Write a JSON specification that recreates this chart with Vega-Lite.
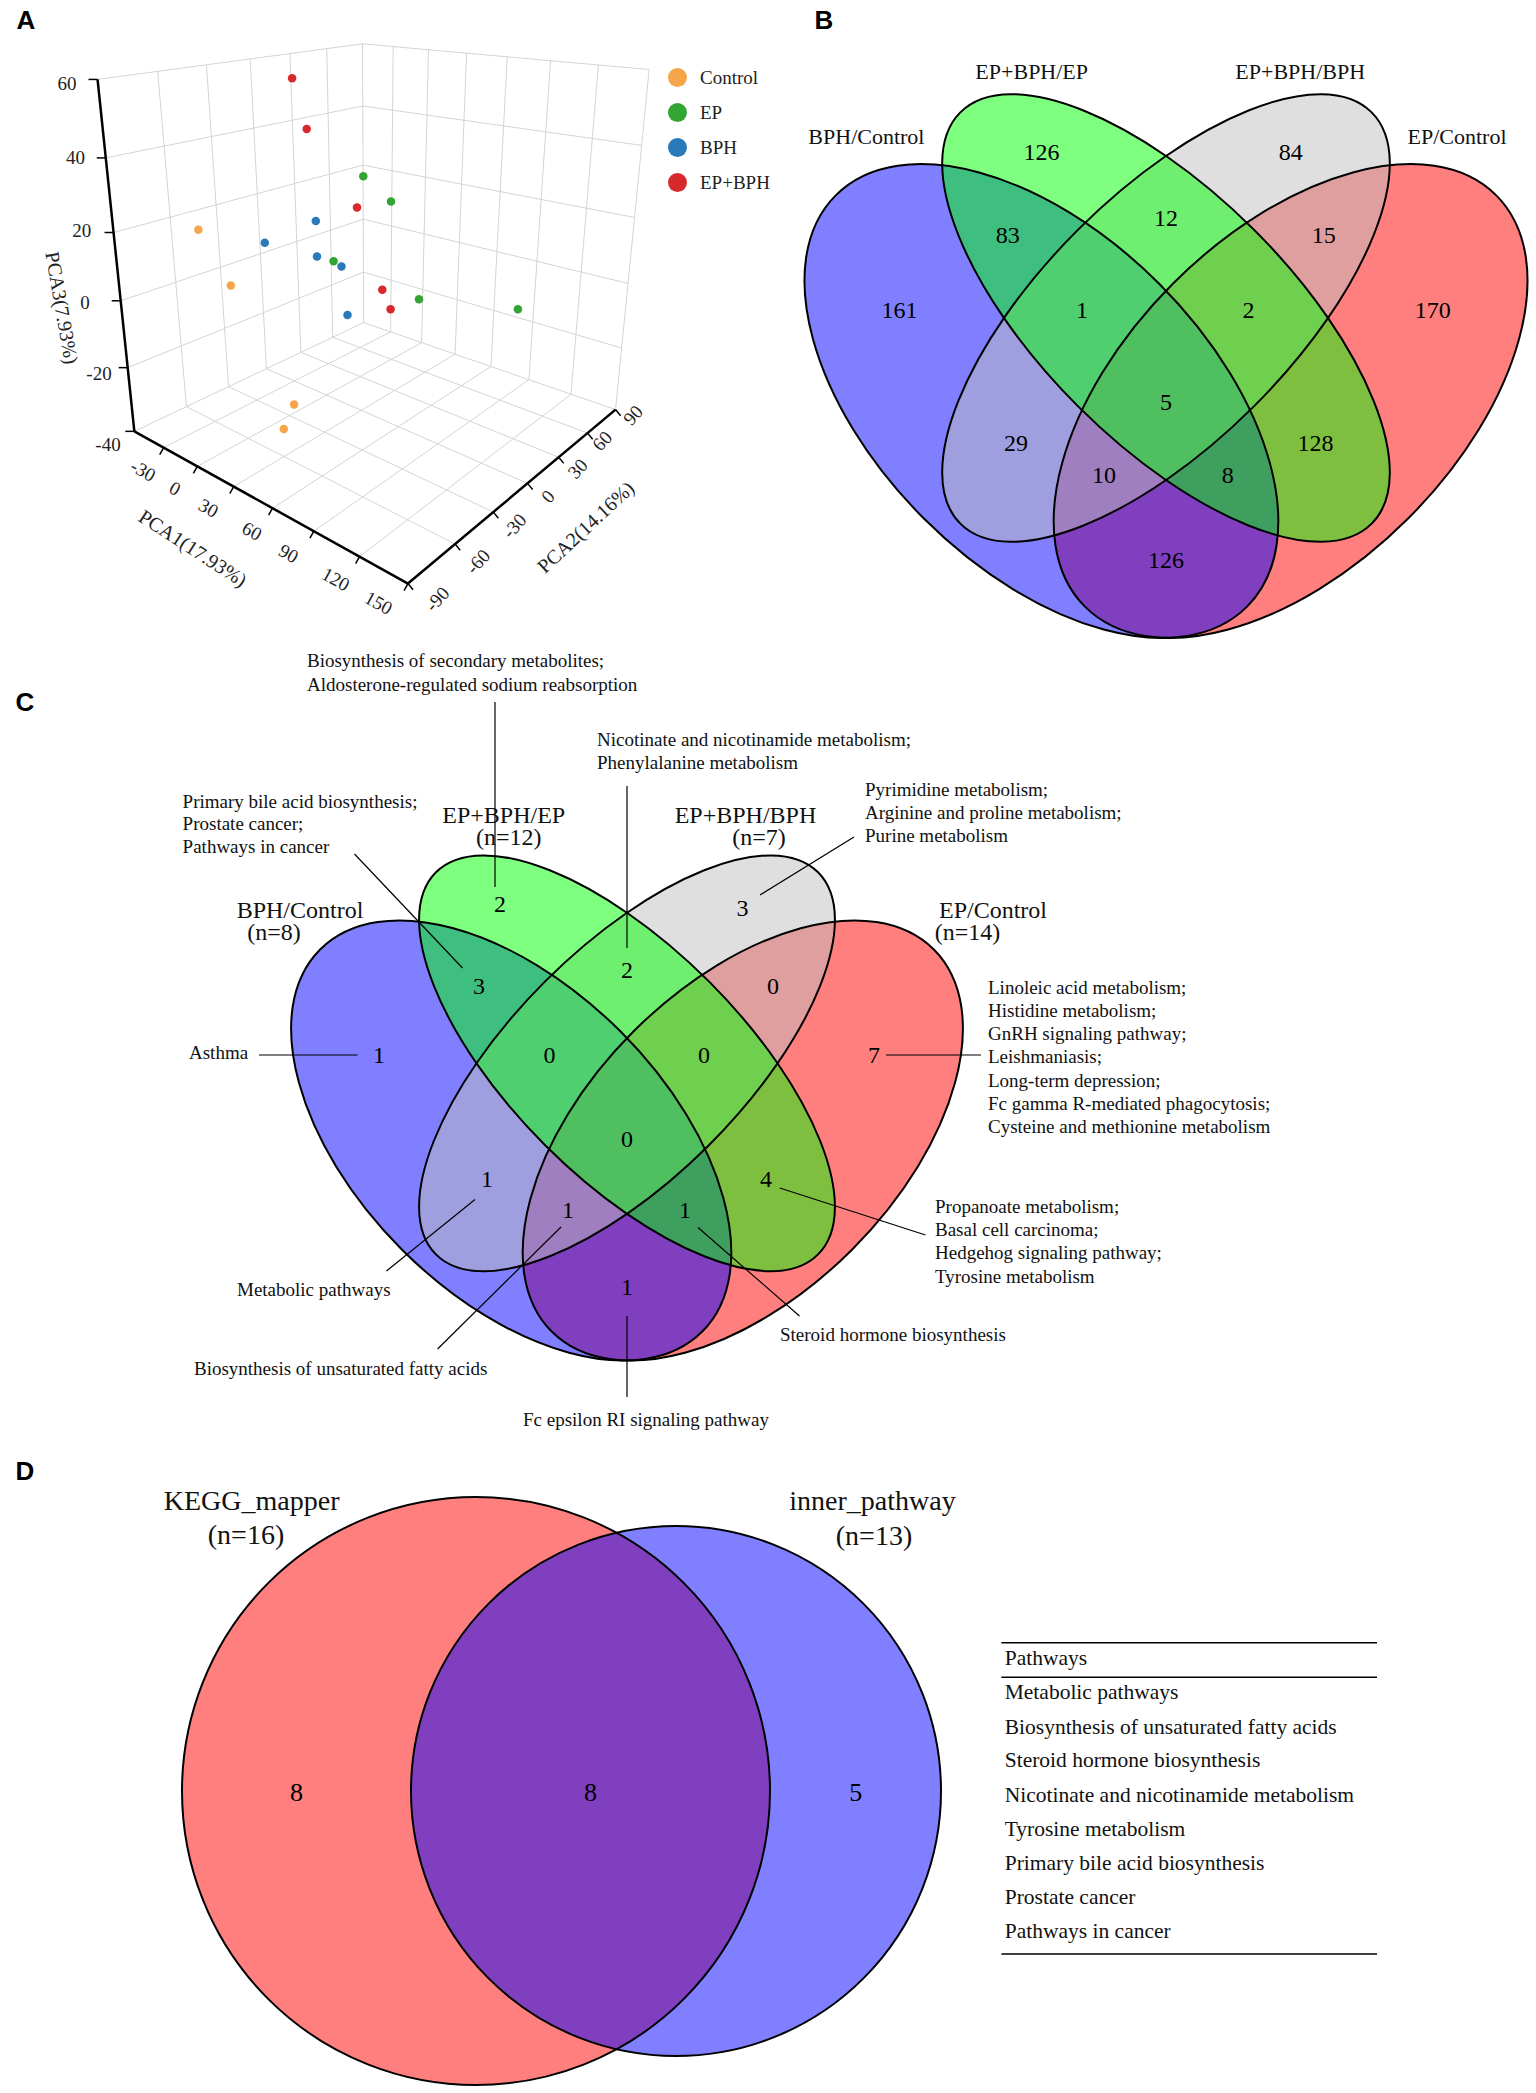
{
  "$schema": "https://vega.github.io/schema/vega-lite/v6.json",
  "width": 1536,
  "height": 2093,
  "autosize": {"type": "fit", "contains": "padding"},
  "padding": 0,
  "background": "white",
  "config": {"view": {"stroke": null}},
  "encoding": {
    "x": {"field": "x", "type": "quantitative", "scale": {"domain": [0, 1536], "nice": false, "zero": false}, "axis": null},
    "y": {"field": "y", "type": "quantitative", "scale": {"domain": [0, 2093], "nice": false, "zero": false, "reverse": true}, "axis": null}
  },
  "layer": [
    {
      "data": {"values": [
        {"x": 186.41, "y": 406.66, "x2": 157.71, "y2": 71.36},
        {"x": 228.6, "y": 386.66, "x2": 206.46, "y2": 64.8},
        {"x": 266.44, "y": 368.71, "x2": 250.15, "y2": 58.94},
        {"x": 300.84, "y": 352.38, "x2": 289.89, "y2": 53.61},
        {"x": 332.71, "y": 337.27, "x2": 326.74, "y2": 48.62},
        {"x": 127.69, "y": 367.64, "x2": 363.48, "y2": 272.15},
        {"x": 120.7, "y": 300.78, "x2": 363.24, "y2": 219.16},
        {"x": 113.58, "y": 232.49, "x2": 363.01, "y2": 165.11},
        {"x": 105.75, "y": 157.91, "x2": 362.77, "y2": 106.0},
        {"x": 97.56, "y": 79.43, "x2": 362.49, "y2": 43.84},
        {"x": 362.49, "y": 43.84, "x2": 363.67, "y2": 322.6},
        {"x": 134.34, "y": 431.34, "x2": 363.67, "y2": 322.6},
        {"x": 390.64, "y": 331.9, "x2": 393.17, "y2": 46.61},
        {"x": 421.61, "y": 342.61, "x2": 428.44, "y2": 49.77},
        {"x": 455.09, "y": 354.2, "x2": 466.57, "y2": 53.17},
        {"x": 490.88, "y": 366.54, "x2": 507.25, "y2": 56.81},
        {"x": 528.91, "y": 379.66, "x2": 550.55, "y2": 60.68},
        {"x": 570.99, "y": 394.21, "x2": 598.43, "y2": 64.99},
        {"x": 615.55, "y": 409.59, "x2": 649.16, "y2": 69.54},
        {"x": 363.48, "y": 272.15, "x2": 621.64, "y2": 348.03},
        {"x": 363.24, "y": 219.16, "x2": 628.01, "y2": 283.42},
        {"x": 363.01, "y": 165.11, "x2": 634.53, "y2": 217.47},
        {"x": 362.77, "y": 106.0, "x2": 641.65, "y2": 145.38},
        {"x": 362.49, "y": 43.84, "x2": 649.16, "y2": 69.54},
        {"x": 363.67, "y": 322.6, "x2": 615.55, "y2": 409.59},
        {"x": 163.6, "y": 447.63, "x2": 390.64, "y2": 331.9},
        {"x": 197.29, "y": 466.37, "x2": 421.61, "y2": 342.61},
        {"x": 233.67, "y": 486.62, "x2": 455.09, "y2": 354.2},
        {"x": 272.53, "y": 508.21, "x2": 490.88, "y2": 366.54},
        {"x": 313.85, "y": 531.22, "x2": 528.91, "y2": 379.66},
        {"x": 359.52, "y": 556.65, "x2": 570.99, "y2": 394.21},
        {"x": 186.41, "y": 406.66, "x2": 455.09, "y2": 544.07},
        {"x": 228.6, "y": 386.66, "x2": 493.29, "y2": 512.08},
        {"x": 266.44, "y": 368.71, "x2": 527.53, "y2": 483.38},
        {"x": 300.84, "y": 352.38, "x2": 558.69, "y2": 457.28},
        {"x": 332.71, "y": 337.27, "x2": 587.52, "y2": 433.09}
      ]},
      "mark": {"type": "rule", "stroke": "#d4d4d4", "strokeWidth": 1},
      "encoding": {"x2": {"field": "x2"}, "y2": {"field": "y2"}}
    },
    {
      "data": {"values": [
        {"x": 97.56, "y": 79.43, "x2": 134.34, "y2": 431.34},
        {"x": 134.34, "y": 431.34, "x2": 407.96, "y2": 583.57},
        {"x": 407.96, "y": 583.57, "x2": 615.55, "y2": 409.59}
      ]},
      "mark": {"type": "rule", "stroke": "#000000", "strokeWidth": 2.5},
      "encoding": {"x2": {"field": "x2"}, "y2": {"field": "y2"}}
    },
    {
      "data": {"values": [
        {"x": 134.34, "y": 431.34, "x2": 125.34, "y2": 431.34},
        {"x": 127.68, "y": 367.65, "x2": 118.68, "y2": 367.65},
        {"x": 120.69, "y": 300.78, "x2": 111.69, "y2": 300.78},
        {"x": 113.56, "y": 232.51, "x2": 104.56, "y2": 232.51},
        {"x": 105.76, "y": 157.9, "x2": 96.76, "y2": 157.9},
        {"x": 97.56, "y": 79.43, "x2": 88.56, "y2": 79.43},
        {"x": 163.62, "y": 447.63, "x2": 159.72, "y2": 454.63},
        {"x": 197.27, "y": 466.35, "x2": 193.37, "y2": 473.35},
        {"x": 233.66, "y": 486.6, "x2": 229.76, "y2": 493.6},
        {"x": 272.52, "y": 508.22, "x2": 268.62, "y2": 515.22},
        {"x": 313.84, "y": 531.2, "x2": 309.94, "y2": 538.2},
        {"x": 359.53, "y": 556.63, "x2": 355.63, "y2": 563.63},
        {"x": 407.96, "y": 583.57, "x2": 404.06, "y2": 590.57},
        {"x": 407.96, "y": 583.57, "x2": 413.06, "y2": 589.67},
        {"x": 455.08, "y": 544.08, "x2": 460.18, "y2": 550.18},
        {"x": 493.28, "y": 512.07, "x2": 498.38, "y2": 518.17},
        {"x": 527.53, "y": 483.36, "x2": 532.63, "y2": 489.46},
        {"x": 558.67, "y": 457.26, "x2": 563.77, "y2": 463.36},
        {"x": 587.52, "y": 433.08, "x2": 592.62, "y2": 439.18},
        {"x": 615.55, "y": 409.59, "x2": 620.65, "y2": 415.69}
      ]},
      "mark": {"type": "rule", "stroke": "#000000", "strokeWidth": 1.5},
      "encoding": {"x2": {"field": "x2"}, "y2": {"field": "y2"}}
    },
    {
      "data": {"values": [
        {"t": "60", "x": 67, "y": 84},
        {"t": "40", "x": 75.5, "y": 158},
        {"t": "20", "x": 81.7, "y": 231},
        {"t": "0", "x": 85, "y": 303},
        {"t": "-20", "x": 99, "y": 374},
        {"t": "-40", "x": 108, "y": 445}
      ]},
      "mark": {"type": "text", "font": "Liberation Serif", "fontSize": 19, "align": "center", "baseline": "middle", "color": "#222222"},
      "encoding": {"text": {"field": "t"}}
    },
    {
      "data": {"values": [
        {"t": "-30", "x": 143, "y": 470.9},
        {"t": "0", "x": 174.7, "y": 488.7},
        {"t": "30", "x": 208.3, "y": 508.4},
        {"t": "60", "x": 251.8, "y": 531.4},
        {"t": "90", "x": 288.5, "y": 553.9},
        {"t": "120", "x": 335.6, "y": 579.6},
        {"t": "150", "x": 378.3, "y": 603.3}
      ]},
      "mark": {"type": "text", "font": "Liberation Serif", "fontSize": 19, "align": "center", "baseline": "middle", "angle": 29, "color": "#222222"},
      "encoding": {"text": {"field": "t"}}
    },
    {
      "data": {"values": [
        {"t": "-90", "x": 437.6, "y": 599.4},
        {"t": "-60", "x": 478.3, "y": 561.8},
        {"t": "-30", "x": 514.7, "y": 526.2},
        {"t": "0", "x": 548.3, "y": 496.6},
        {"t": "30", "x": 578, "y": 468.9},
        {"t": "60", "x": 602.5, "y": 441.2},
        {"t": "90", "x": 633.3, "y": 415.5}
      ]},
      "mark": {"type": "text", "font": "Liberation Serif", "fontSize": 19, "align": "center", "baseline": "middle", "angle": 312, "color": "#222222"},
      "encoding": {"text": {"field": "t"}}
    },
    {
      "data": {"values": [{"t": "PCA1(17.93%)", "x": 192.5, "y": 549}]},
      "mark": {"type": "text", "font": "Liberation Serif", "fontSize": 20, "align": "center", "baseline": "middle", "angle": 33, "color": "#222222"},
      "encoding": {"text": {"field": "t"}}
    },
    {
      "data": {"values": [{"t": "PCA2(14.16%)", "x": 586.3, "y": 527.7}]},
      "mark": {"type": "text", "font": "Liberation Serif", "fontSize": 20, "align": "center", "baseline": "middle", "angle": 317, "color": "#222222"},
      "encoding": {"text": {"field": "t"}}
    },
    {
      "data": {"values": [{"t": "PCA3(7.93%)", "x": 61, "y": 308}]},
      "mark": {"type": "text", "font": "Liberation Serif", "fontSize": 20, "align": "center", "baseline": "middle", "angle": 80, "color": "#222222"},
      "encoding": {"text": {"field": "t"}}
    },
    {
      "data": {"values": [
        {"group": "EP+BPH", "x": 292.1, "y": 78.2},
        {"group": "EP+BPH", "x": 306.7, "y": 128.9},
        {"group": "EP+BPH", "x": 357.0, "y": 207.5},
        {"group": "EP+BPH", "x": 382.3, "y": 289.8},
        {"group": "EP+BPH", "x": 390.6, "y": 309.2},
        {"group": "EP", "x": 363.3, "y": 176.3},
        {"group": "EP", "x": 391.0, "y": 201.6},
        {"group": "EP", "x": 333.6, "y": 261.3},
        {"group": "EP", "x": 419.0, "y": 299.3},
        {"group": "EP", "x": 517.9, "y": 309.2},
        {"group": "BPH", "x": 315.8, "y": 221.0},
        {"group": "BPH", "x": 264.8, "y": 242.7},
        {"group": "BPH", "x": 317.0, "y": 256.6},
        {"group": "BPH", "x": 341.5, "y": 266.5},
        {"group": "BPH", "x": 347.5, "y": 315.1},
        {"group": "Control", "x": 198.4, "y": 229.7},
        {"group": "Control", "x": 230.8, "y": 285.4},
        {"group": "Control", "x": 294.1, "y": 404.4},
        {"group": "Control", "x": 283.8, "y": 429.0}
      ]},
      "mark": {"type": "point", "filled": true, "shape": "circle", "size": 72, "opacity": 1, "strokeWidth": 0},
      "encoding": {
        "color": {
          "field": "group", "type": "nominal",
          "scale": {"domain": ["Control", "EP", "BPH", "EP+BPH"], "range": ["#F5A54A", "#33A532", "#2A7AB9", "#D7282B"]},
          "legend": {"title": null, "orient": "none", "legendX": 668, "legendY": 68, "symbolType": "circle", "symbolSize": 361, "symbolOpacity": 1, "symbolStrokeWidth": 0, "labelFont": "Liberation Serif", "labelFontSize": 19, "labelColor": "#222222", "labelOffset": 13, "rowPadding": 15, "padding": 0}
        }
      }
    },
    {
      "data": {"values": [
        {"set": "EP/Control", "x": 1290.6, "y": 401},
        {"set": "BPH/Control", "x": 1041.4, "y": 401},
        {"set": "EP+BPH/BPH", "x": 1166, "y": 318},
        {"set": "EP+BPH/EP", "x": 1166, "y": 318}
      ]},
      "mark": {"type": "point", "filled": true, "opacity": 1, "fillOpacity": 0.5, "strokeWidth": 0, "size": 27622},
      "encoding": {
        "shape": {"field": "set", "type": "nominal", "legend": null, "scale": {"domain": ["EP/Control", "BPH/Control", "EP+BPH/BPH", "EP+BPH/EP"], "range": [
          "M -2.4749 2.4749 C -1.6938 3.256 0.0474 2.781 1.4142 1.4142 C 2.781 0.0474 3.256 -1.6938 2.4749 -2.4749 C 1.6938 -3.256 -0.0474 -2.781 -1.4142 -1.4142 C -2.781 -0.0474 -3.256 1.6938 -2.4749 2.4749 Z",
          "M 2.4749 2.4749 C 1.6938 3.256 -0.0474 2.781 -1.4142 1.4142 C -2.781 0.0474 -3.256 -1.6938 -2.4749 -2.4749 C -1.6938 -3.256 0.0474 -2.781 1.4142 -1.4142 C 2.781 -0.0474 3.256 1.6938 2.4749 2.4749 Z",
          "M -2.4749 2.4749 C -1.8891 3.0607 -0.3061 2.4275 1.0607 1.0607 C 2.4275 -0.3061 3.0607 -1.8891 2.4749 -2.4749 C 1.8891 -3.0607 0.3061 -2.4275 -1.0607 -1.0607 C -2.4275 0.3061 -3.0607 1.8891 -2.4749 2.4749 Z",
          "M 2.4749 2.4749 C 1.8891 3.0607 0.3061 2.4275 -1.0607 1.0607 C -2.4275 -0.3061 -3.0607 -1.8891 -2.4749 -2.4749 C -1.8891 -3.0607 -0.3061 -2.4275 1.0607 -1.0607 C 2.4275 0.3061 3.0607 1.8891 2.4749 2.4749 Z"
        ]}},
        "fill": {"field": "set", "type": "nominal", "legend": null, "scale": {"domain": ["EP/Control", "BPH/Control", "EP+BPH/BPH", "EP+BPH/EP"], "range": ["#FF0000", "#0000FF", "#BFBFBF", "#00FF00"]}}
      }
    },
    {
      "data": {"values": [
        {"set": "EP/Control", "x": 1290.6, "y": 401},
        {"set": "BPH/Control", "x": 1041.4, "y": 401},
        {"set": "EP+BPH/BPH", "x": 1166, "y": 318},
        {"set": "EP+BPH/EP", "x": 1166, "y": 318}
      ]},
      "mark": {"type": "point", "filled": false, "opacity": 1, "stroke": "#000000", "strokeWidth": 2, "size": 27622},
      "encoding": {
        "shape": {"field": "set", "type": "nominal", "legend": null, "scale": {"domain": ["EP/Control", "BPH/Control", "EP+BPH/BPH", "EP+BPH/EP"], "range": [
          "M -2.4749 2.4749 C -1.6938 3.256 0.0474 2.781 1.4142 1.4142 C 2.781 0.0474 3.256 -1.6938 2.4749 -2.4749 C 1.6938 -3.256 -0.0474 -2.781 -1.4142 -1.4142 C -2.781 -0.0474 -3.256 1.6938 -2.4749 2.4749 Z",
          "M 2.4749 2.4749 C 1.6938 3.256 -0.0474 2.781 -1.4142 1.4142 C -2.781 0.0474 -3.256 -1.6938 -2.4749 -2.4749 C -1.6938 -3.256 0.0474 -2.781 1.4142 -1.4142 C 2.781 -0.0474 3.256 1.6938 2.4749 2.4749 Z",
          "M -2.4749 2.4749 C -1.8891 3.0607 -0.3061 2.4275 1.0607 1.0607 C 2.4275 -0.3061 3.0607 -1.8891 2.4749 -2.4749 C 1.8891 -3.0607 0.3061 -2.4275 -1.0607 -1.0607 C -2.4275 0.3061 -3.0607 1.8891 -2.4749 2.4749 Z",
          "M 2.4749 2.4749 C 1.8891 3.0607 0.3061 2.4275 -1.0607 1.0607 C -2.4275 -0.3061 -3.0607 -1.8891 -2.4749 -2.4749 C -1.8891 -3.0607 -0.3061 -2.4275 1.0607 -1.0607 C 2.4275 0.3061 3.0607 1.8891 2.4749 2.4749 Z"
        ]}}
      }
    },
    {
      "data": {"values": [
        {"t": "161", "x": 899.6, "y": 311},
        {"t": "126", "x": 1041.6, "y": 153},
        {"t": "84", "x": 1290.8, "y": 153},
        {"t": "170", "x": 1432.8, "y": 311},
        {"t": "12", "x": 1166, "y": 219},
        {"t": "83", "x": 1007.7, "y": 236},
        {"t": "15", "x": 1323.7, "y": 236},
        {"t": "1", "x": 1082, "y": 311},
        {"t": "2", "x": 1248.6, "y": 311},
        {"t": "5", "x": 1166, "y": 403},
        {"t": "29", "x": 1016, "y": 444},
        {"t": "128", "x": 1315.5, "y": 444},
        {"t": "10", "x": 1104, "y": 475.6},
        {"t": "8", "x": 1227.8, "y": 475.6},
        {"t": "126", "x": 1166, "y": 560.5}
      ]},
      "mark": {"type": "text", "font": "Liberation Serif", "fontSize": 24, "align": "center", "baseline": "middle", "color": "#000000"},
      "encoding": {"text": {"field": "t"}}
    },
    {
      "data": {"values": [
        {"t": "EP+BPH/EP", "x": 1031.7, "y": 72},
        {"t": "EP+BPH/BPH", "x": 1300.2, "y": 72},
        {"t": "BPH/Control", "x": 866.4, "y": 137},
        {"t": "EP/Control", "x": 1457, "y": 137}
      ]},
      "mark": {"type": "text", "font": "Liberation Serif", "fontSize": 22, "align": "center", "baseline": "middle", "color": "#111111"},
      "encoding": {"text": {"field": "t"}}
    },
    {
      "data": {"values": [
        {"set": "EP/Control", "x": 742.8, "y": 1140.5},
        {"set": "BPH/Control", "x": 511.2, "y": 1140.5},
        {"set": "EP+BPH/BPH", "x": 627, "y": 1063.3},
        {"set": "EP+BPH/EP", "x": 627, "y": 1063.3}
      ]},
      "mark": {"type": "point", "filled": true, "opacity": 1, "fillOpacity": 0.5, "strokeWidth": 0, "size": 23839},
      "encoding": {
        "shape": {"field": "set", "type": "nominal", "legend": null, "scale": {"domain": ["EP/Control", "BPH/Control", "EP+BPH/BPH", "EP+BPH/EP"], "range": [
          "M -2.4749 2.4749 C -1.6938 3.256 0.0474 2.781 1.4142 1.4142 C 2.781 0.0474 3.256 -1.6938 2.4749 -2.4749 C 1.6938 -3.256 -0.0474 -2.781 -1.4142 -1.4142 C -2.781 -0.0474 -3.256 1.6938 -2.4749 2.4749 Z",
          "M 2.4749 2.4749 C 1.6938 3.256 -0.0474 2.781 -1.4142 1.4142 C -2.781 0.0474 -3.256 -1.6938 -2.4749 -2.4749 C -1.6938 -3.256 0.0474 -2.781 1.4142 -1.4142 C 2.781 -0.0474 3.256 1.6938 2.4749 2.4749 Z",
          "M -2.4749 2.4749 C -1.8891 3.0607 -0.3061 2.4275 1.0607 1.0607 C 2.4275 -0.3061 3.0607 -1.8891 2.4749 -2.4749 C 1.8891 -3.0607 0.3061 -2.4275 -1.0607 -1.0607 C -2.4275 0.3061 -3.0607 1.8891 -2.4749 2.4749 Z",
          "M 2.4749 2.4749 C 1.8891 3.0607 0.3061 2.4275 -1.0607 1.0607 C -2.4275 -0.3061 -3.0607 -1.8891 -2.4749 -2.4749 C -1.8891 -3.0607 -0.3061 -2.4275 1.0607 -1.0607 C 2.4275 0.3061 3.0607 1.8891 2.4749 2.4749 Z"
        ]}},
        "fill": {"field": "set", "type": "nominal", "legend": null, "scale": {"domain": ["EP/Control", "BPH/Control", "EP+BPH/BPH", "EP+BPH/EP"], "range": ["#FF0000", "#0000FF", "#BFBFBF", "#00FF00"]}}
      }
    },
    {
      "data": {"values": [
        {"set": "EP/Control", "x": 742.8, "y": 1140.5},
        {"set": "BPH/Control", "x": 511.2, "y": 1140.5},
        {"set": "EP+BPH/BPH", "x": 627, "y": 1063.3},
        {"set": "EP+BPH/EP", "x": 627, "y": 1063.3}
      ]},
      "mark": {"type": "point", "filled": false, "opacity": 1, "stroke": "#000000", "strokeWidth": 2, "size": 23839},
      "encoding": {
        "shape": {"field": "set", "type": "nominal", "legend": null, "scale": {"domain": ["EP/Control", "BPH/Control", "EP+BPH/BPH", "EP+BPH/EP"], "range": [
          "M -2.4749 2.4749 C -1.6938 3.256 0.0474 2.781 1.4142 1.4142 C 2.781 0.0474 3.256 -1.6938 2.4749 -2.4749 C 1.6938 -3.256 -0.0474 -2.781 -1.4142 -1.4142 C -2.781 -0.0474 -3.256 1.6938 -2.4749 2.4749 Z",
          "M 2.4749 2.4749 C 1.6938 3.256 -0.0474 2.781 -1.4142 1.4142 C -2.781 0.0474 -3.256 -1.6938 -2.4749 -2.4749 C -1.6938 -3.256 0.0474 -2.781 1.4142 -1.4142 C 2.781 -0.0474 3.256 1.6938 2.4749 2.4749 Z",
          "M -2.4749 2.4749 C -1.8891 3.0607 -0.3061 2.4275 1.0607 1.0607 C 2.4275 -0.3061 3.0607 -1.8891 2.4749 -2.4749 C 1.8891 -3.0607 0.3061 -2.4275 -1.0607 -1.0607 C -2.4275 0.3061 -3.0607 1.8891 -2.4749 2.4749 Z",
          "M 2.4749 2.4749 C 1.8891 3.0607 0.3061 2.4275 -1.0607 1.0607 C -2.4275 -0.3061 -3.0607 -1.8891 -2.4749 -2.4749 C -1.8891 -3.0607 -0.3061 -2.4275 1.0607 -1.0607 C 2.4275 0.3061 3.0607 1.8891 2.4749 2.4749 Z"
        ]}}
      }
    },
    {
      "data": {"values": [
        {"x": 495, "y": 702, "x2": 495, "y2": 887},
        {"x": 627, "y": 786, "x2": 627, "y2": 948},
        {"x": 854, "y": 837, "x2": 760, "y2": 895},
        {"x": 354.5, "y": 854, "x2": 462.5, "y2": 968},
        {"x": 259, "y": 1055, "x2": 357.6, "y2": 1055},
        {"x": 886, "y": 1055, "x2": 981, "y2": 1055},
        {"x": 779.8, "y": 1188, "x2": 925.5, "y2": 1235},
        {"x": 698, "y": 1227.5, "x2": 799.5, "y2": 1316},
        {"x": 475, "y": 1199.5, "x2": 386.5, "y2": 1271},
        {"x": 561, "y": 1227, "x2": 437.6, "y2": 1349},
        {"x": 627, "y": 1316, "x2": 627, "y2": 1397}
      ]},
      "mark": {"type": "rule", "stroke": "#000000", "strokeWidth": 1.2},
      "encoding": {"x2": {"field": "x2"}, "y2": {"field": "y2"}}
    },
    {
      "data": {"values": [
        {"t": "2", "x": 500, "y": 904.6},
        {"t": "3", "x": 742.5, "y": 908.6},
        {"t": "2", "x": 627, "y": 970.7},
        {"t": "3", "x": 479, "y": 986.7},
        {"t": "0", "x": 773, "y": 986.7},
        {"t": "1", "x": 379, "y": 1056},
        {"t": "0", "x": 549.5, "y": 1056},
        {"t": "0", "x": 704, "y": 1056},
        {"t": "7", "x": 874, "y": 1056},
        {"t": "0", "x": 627, "y": 1140},
        {"t": "1", "x": 487, "y": 1179.7},
        {"t": "4", "x": 766, "y": 1179.7},
        {"t": "1", "x": 568, "y": 1210.5},
        {"t": "1", "x": 685, "y": 1210.5},
        {"t": "1", "x": 627, "y": 1288}
      ]},
      "mark": {"type": "text", "font": "Liberation Serif", "fontSize": 24, "align": "center", "baseline": "middle", "color": "#000000"},
      "encoding": {"text": {"field": "t"}}
    },
    {
      "data": {"values": [
        {"t": "BPH/Control", "x": 300, "y": 911},
        {"t": "(n=8)", "x": 274, "y": 933.4},
        {"t": "EP+BPH/EP", "x": 503.7, "y": 815.5},
        {"t": "(n=12)", "x": 508.7, "y": 838},
        {"t": "EP+BPH/BPH", "x": 745.5, "y": 815.5},
        {"t": "(n=7)", "x": 759, "y": 838},
        {"t": "EP/Control", "x": 993, "y": 911},
        {"t": "(n=14)", "x": 967.6, "y": 933.4}
      ]},
      "mark": {"type": "text", "font": "Liberation Serif", "fontSize": 24, "align": "center", "baseline": "middle", "color": "#111111"},
      "encoding": {"text": {"field": "t"}}
    },
    {
      "data": {"values": [
        {"t": "Biosynthesis of secondary metabolites;", "x": 307, "y": 661},
        {"t": "Aldosterone-regulated sodium reabsorption", "x": 307, "y": 685},
        {"t": "Nicotinate and nicotinamide metabolism;", "x": 597, "y": 740},
        {"t": "Phenylalanine metabolism", "x": 597, "y": 763},
        {"t": "Pyrimidine metabolism;", "x": 865, "y": 790},
        {"t": "Arginine and proline metabolism;", "x": 865, "y": 813},
        {"t": "Purine metabolism", "x": 865, "y": 836},
        {"t": "Primary bile acid biosynthesis;", "x": 182.6, "y": 801.7},
        {"t": "Prostate cancer;", "x": 182.6, "y": 824},
        {"t": "Pathways in cancer", "x": 182.6, "y": 847},
        {"t": "Asthma", "x": 189, "y": 1053},
        {"t": "Linoleic acid metabolism;", "x": 988, "y": 988},
        {"t": "Histidine metabolism;", "x": 988, "y": 1011},
        {"t": "GnRH signaling pathway;", "x": 988, "y": 1034},
        {"t": "Leishmaniasis;", "x": 988, "y": 1057},
        {"t": "Long-term depression;", "x": 988, "y": 1081},
        {"t": "Fc gamma R-mediated phagocytosis;", "x": 988, "y": 1104},
        {"t": "Cysteine and methionine metabolism", "x": 988, "y": 1127},
        {"t": "Propanoate metabolism;", "x": 935, "y": 1207},
        {"t": "Basal cell carcinoma;", "x": 935, "y": 1230},
        {"t": "Hedgehog signaling pathway;", "x": 935, "y": 1253},
        {"t": "Tyrosine metabolism", "x": 935, "y": 1277},
        {"t": "Steroid hormone biosynthesis", "x": 780, "y": 1335},
        {"t": "Metabolic pathways", "x": 237, "y": 1290},
        {"t": "Biosynthesis of unsaturated fatty acids", "x": 194, "y": 1369},
        {"t": "Fc epsilon RI signaling pathway", "x": 523, "y": 1420}
      ]},
      "mark": {"type": "text", "font": "Liberation Serif", "fontSize": 19, "align": "left", "baseline": "middle", "color": "#111111"},
      "encoding": {"text": {"field": "t"}}
    },
    {
      "data": {"values": [{"set": "KEGG_mapper", "x": 476, "y": 1791}]},
      "mark": {"type": "point", "shape": "circle", "filled": true, "opacity": 1, "fill": "#FF0000", "fillOpacity": 0.5, "strokeWidth": 0, "size": 345744},
      "encoding": {}
    },
    {
      "data": {"values": [{"set": "inner_pathway", "x": 676, "y": 1791}]},
      "mark": {"type": "point", "shape": "circle", "filled": true, "opacity": 1, "fill": "#0000FF", "fillOpacity": 0.5, "strokeWidth": 0, "size": 280900},
      "encoding": {}
    },
    {
      "data": {"values": [{"set": "KEGG_mapper", "x": 476, "y": 1791}]},
      "mark": {"type": "point", "shape": "circle", "filled": false, "opacity": 1, "stroke": "#000000", "strokeWidth": 2, "size": 345744},
      "encoding": {}
    },
    {
      "data": {"values": [{"set": "inner_pathway", "x": 676, "y": 1791}]},
      "mark": {"type": "point", "shape": "circle", "filled": false, "opacity": 1, "stroke": "#000000", "strokeWidth": 2, "size": 280900},
      "encoding": {}
    },
    {
      "data": {"values": [
        {"t": "8", "x": 296.5, "y": 1793},
        {"t": "8", "x": 590.4, "y": 1793},
        {"t": "5", "x": 855.7, "y": 1793}
      ]},
      "mark": {"type": "text", "font": "Liberation Serif", "fontSize": 26, "align": "center", "baseline": "middle", "color": "#000000"},
      "encoding": {"text": {"field": "t"}}
    },
    {
      "data": {"values": [
        {"t": "KEGG_mapper", "x": 251.6, "y": 1502},
        {"t": "(n=16)", "x": 246, "y": 1535.7},
        {"t": "inner_pathway", "x": 872.5, "y": 1502},
        {"t": "(n=13)", "x": 874, "y": 1536.5}
      ]},
      "mark": {"type": "text", "font": "Liberation Serif", "fontSize": 28, "align": "center", "baseline": "middle", "color": "#111111"},
      "encoding": {"text": {"field": "t"}}
    },
    {
      "data": {"values": [
        {"x": 1001.4, "y": 1642.7, "x2": 1377, "y2": 1642.7},
        {"x": 1001.4, "y": 1677.3, "x2": 1377, "y2": 1677.3},
        {"x": 1001.4, "y": 1954, "x2": 1377, "y2": 1954}
      ]},
      "mark": {"type": "rule", "stroke": "#000000", "strokeWidth": 1.6},
      "encoding": {"x2": {"field": "x2"}, "y2": {"field": "y2"}}
    },
    {
      "data": {"values": [
        {"t": "Pathways", "x": 1004.7, "y": 1659},
        {"t": "Metabolic pathways", "x": 1004.7, "y": 1693},
        {"t": "Biosynthesis of unsaturated fatty acids", "x": 1004.7, "y": 1727.5},
        {"t": "Steroid hormone biosynthesis", "x": 1004.7, "y": 1761.4},
        {"t": "Nicotinate and nicotinamide metabolism", "x": 1004.7, "y": 1795.7},
        {"t": "Tyrosine metabolism", "x": 1004.7, "y": 1829.6},
        {"t": "Primary bile acid biosynthesis", "x": 1004.7, "y": 1863.5},
        {"t": "Prostate cancer", "x": 1004.7, "y": 1897.8},
        {"t": "Pathways in cancer", "x": 1004.7, "y": 1931.6}
      ]},
      "mark": {"type": "text", "font": "Liberation Serif", "fontSize": 21.5, "align": "left", "baseline": "middle", "color": "#111111"},
      "encoding": {"text": {"field": "t"}}
    },
    {
      "data": {"values": [
        {"t": "A", "x": 26, "y": 21},
        {"t": "B", "x": 824, "y": 21},
        {"t": "C", "x": 25, "y": 703},
        {"t": "D", "x": 25, "y": 1472}
      ]},
      "mark": {"type": "text", "font": "Liberation Sans", "fontWeight": "bold", "fontSize": 26, "align": "center", "baseline": "middle", "color": "#000000"},
      "encoding": {"text": {"field": "t"}}
    }
  ],
  "resolve": {"scale": {"color": "independent", "fill": "independent", "shape": "independent"}}
}
